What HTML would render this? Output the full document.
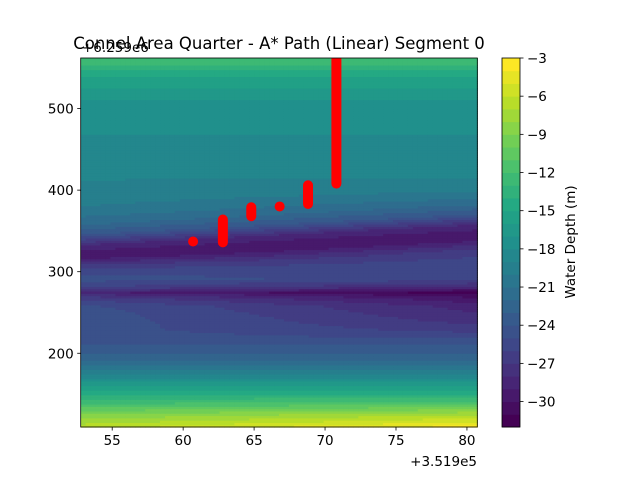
<!DOCTYPE html>
<html><head><meta charset="utf-8"><style>
html,body{margin:0;padding:0;background:#fff;}
svg text{font-family:"DejaVu Sans","Liberation Sans",sans-serif;fill:#000;}
</style></head><body>
<svg id="chart" width="640" height="480" viewBox="0 0 640 480" xmlns="http://www.w3.org/2000/svg">
<rect width="640" height="480" fill="#fff"/>
<g id="field"></g>
<g id="path"></g>
<rect x="80.7" y="58" width="396.6" height="369" fill="none" stroke="#000" stroke-width="0.8"/>
<g id="axes"></g>
<g id="cbar"></g>
<text x="279" y="49" font-size="16.5" text-anchor="middle">Connel Area Quarter - A* Path (Linear) Segment 0</text>
<text x="82" y="52" font-size="13.5">+6.259e6</text>
<text x="477" y="466" font-size="13.5" text-anchor="end">+3.519e5</text>
<text transform="translate(575,242) rotate(-90)" font-size="13.5" text-anchor="middle">Water Depth (m)</text>
</svg>
<script>
// depth profile by northing (data y) -> depth
const profileY = [110,125,140,155,170,185,200,215,230,245,258,268,275,282,292,305,315,325,335,345,358,370,385,400,430,470,510,540,562];
const profileZ = [-5,-8,-12,-15,-18,-21,-23,-24.5,-25.5,-26,-26.5,-28,-30,-27,-25,-25.5,-27,-29,-29.5,-28,-24,-22,-20.5,-19.5,-18.5,-18,-17,-15,-12];
const xTicks = [55,60,65,70,75,80];
const yTicks = [200,300,400,500];
const cbTicks = [-3,-6,-9,-12,-15,-18,-21,-24,-27,-30];
const pathX = [60.7,62.8,64.8,66.8,68.8,70.8];
const pathY0 = [337,336,368,380,383,408];
const pathY1 = [337,364,379,380,406,575];
const levelMin = -32, levelMax = -3;

const X0=52.78,X1=80.73,Y0=109.6,Y1=562;
const PL=80.7,PR=477.3,PT=58,PB=427;
function sx(v){return PL+(v-X0)/(X1-X0)*(PR-PL);}
function sy(v){return PB-(v-Y0)/(Y1-Y0)*(PB-PT);}
const vir=[[68,1,84],[72,35,116],[64,67,135],[52,94,141],[41,120,142],[32,144,140],[34,167,132],[68,190,112],[121,209,81],[189,222,38],[253,231,37]];
function viridis(t){t=Math.max(0,Math.min(1,t));const f=t*(vir.length-1),i=Math.min(vir.length-2,Math.floor(f)),r=f-i;
 const c=vir[i].map((a,k)=>Math.round(a+(vir[i+1][k]-a)*r));return `rgb(${c[0]},${c[1]},${c[2]})`;}
const nL=levelMax-levelMin;
function bandColor(z){let b=Math.floor(z-levelMin);b=Math.max(0,Math.min(nL-1,b));return viridis(b/(nL-1));}
function interp(y){if(y<=profileY[0])return profileZ[0];for(let i=1;i<profileY.length;i++){if(y<=profileY[i]){const r=(y-profileY[i-1])/(profileY[i]-profileY[i-1]);return profileZ[i-1]+r*(profileZ[i]-profileZ[i-1]);}}return profileZ[profileZ.length-1];}
function depth(x,y){
 const w=Math.max(0,Math.min(1,(y-295)/30))*Math.max(0,Math.min(1,(420-y)/40));
 let yy=y-(x-66)*0.9*w;
 let z=interp(yy);
 if(y>215&&y<300) z-=1.8*(x-66)/14*Math.sin((y-215)/85*Math.PI);
 if(y<150) z+=1.5*(x-66)/14*(150-y)/40;
 return z;}
const NS="http://www.w3.org/2000/svg";
const field=document.getElementById('field');
const nx=80,ny=160;
for(let j=0;j<ny;j++){for(let i=0;i<nx;i++){
 const x=X0+(i+0.5)/nx*(X1-X0), y=Y0+(j+0.5)/ny*(Y1-Y0);
 const r=document.createElementNS(NS,'rect');
 const xa=sx(X0+i/nx*(X1-X0)), xb=sx(X0+(i+1)/nx*(X1-X0));
 const ya=sy(Y0+(j+1)/ny*(Y1-Y0)), yb=sy(Y0+j/ny*(Y1-Y0));
 r.setAttribute('x',xa);r.setAttribute('y',ya);r.setAttribute('width',xb-xa+0.6);r.setAttribute('height',yb-ya+0.6);
 r.setAttribute('fill',bandColor(depth(x,y)));
 
 
 field.appendChild(r);}}
const pg=document.getElementById('path');
for(let k=0;k<pathX.length;k++){
 const l=document.createElementNS(NS,'line');
 l.setAttribute('x1',sx(pathX[k]));l.setAttribute('x2',sx(pathX[k]));
 l.setAttribute('y1',sy(pathY0[k]));l.setAttribute('y2',sy(pathY1[k]));
 l.setAttribute('stroke','#ff0000');l.setAttribute('stroke-width','10');l.setAttribute('stroke-linecap','round');
 
 
 pg.appendChild(l);}
// cover top overflow of path
const cov=document.createElementNS(NS,'rect');cov.setAttribute('x',PL);cov.setAttribute('y',0);cov.setAttribute('width',PR-PL);cov.setAttribute('height',PT);cov.setAttribute('fill','#fff');


pg.appendChild(cov);
const ax=document.getElementById('axes');
xTicks.forEach(v=>{const x=sx(v);
 const t=document.createElementNS(NS,'line');t.setAttribute('x1',x);t.setAttribute('x2',x);t.setAttribute('y1',PB);t.setAttribute('y2',PB+3.5);t.setAttribute('stroke','#000');t.setAttribute('stroke-width','0.8');
 
 
 ax.appendChild(t);
 const s=document.createElementNS(NS,'text');s.setAttribute('x',x);s.setAttribute('y',PB+18);s.setAttribute('font-size','13.5');s.setAttribute('text-anchor','middle');s.textContent=v;
 
 
 ax.appendChild(s);});
yTicks.forEach(v=>{const y=sy(v);
 const t=document.createElementNS(NS,'line');t.setAttribute('x1',PL-3.5);t.setAttribute('x2',PL);t.setAttribute('y1',y);t.setAttribute('y2',y);t.setAttribute('stroke','#000');t.setAttribute('stroke-width','0.8');
 
 
 ax.appendChild(t);
 const s=document.createElementNS(NS,'text');s.setAttribute('x',PL-7);s.setAttribute('y',y+5);s.setAttribute('font-size','13.5');s.setAttribute('text-anchor','end');s.textContent=v;
 
 
 ax.appendChild(s);});
const cb=document.getElementById('cbar');
const CL=502,CR=520,CT=58,CB=427;
function cy(v){return CB-(v-levelMin)/(levelMax-levelMin)*(CB-CT);}
for(let b=0;b<nL;b++){const r=document.createElementNS(NS,'rect');
 r.setAttribute('x',CL);r.setAttribute('width',CR-CL);r.setAttribute('y',cy(levelMin+b+1));r.setAttribute('height',cy(levelMin+b)-cy(levelMin+b+1)+0.5);
 r.setAttribute('fill',viridis(b/(nL-1)));
 
 
 cb.appendChild(r);}
const fr=document.createElementNS(NS,'rect');fr.setAttribute('x',CL);fr.setAttribute('y',CT);fr.setAttribute('width',CR-CL);fr.setAttribute('height',CB-CT);fr.setAttribute('fill','none');fr.setAttribute('stroke','#000');fr.setAttribute('stroke-width','0.8');


cb.appendChild(fr);
cbTicks.forEach(v=>{const y=cy(v);
 const t=document.createElementNS(NS,'line');t.setAttribute('x1',CR);t.setAttribute('x2',CR+3.5);t.setAttribute('y1',y);t.setAttribute('y2',y);t.setAttribute('stroke','#000');t.setAttribute('stroke-width','0.8');
 
 
 cb.appendChild(t);
 const s=document.createElementNS(NS,'text');s.setAttribute('x',CR+7);s.setAttribute('y',y+5);s.setAttribute('font-size','13.5');s.textContent=String(v).replace('-','\u2212');
 
 
 cb.appendChild(s);});
</script>
</body></html>
